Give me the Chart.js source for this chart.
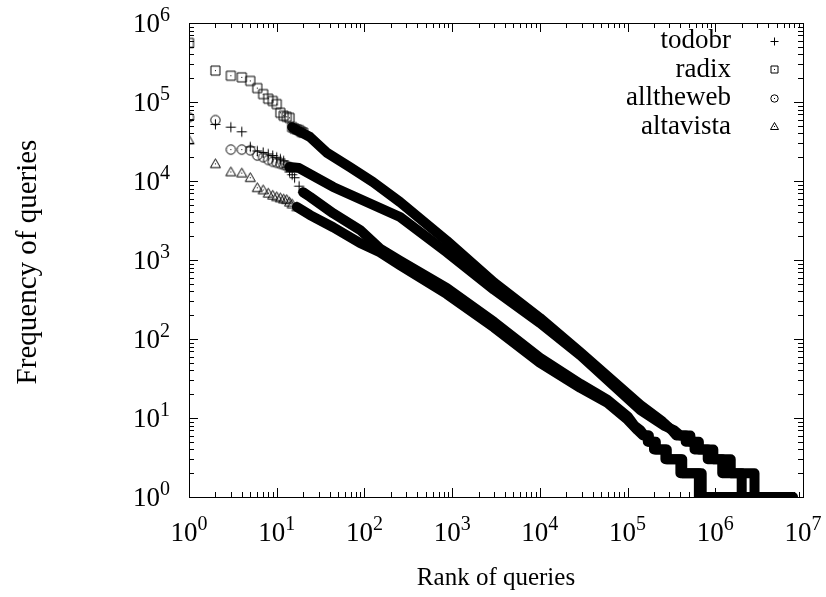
<!DOCTYPE html>
<html>
<head>
<meta charset="utf-8">
<title>Rank vs frequency of queries</title>
<script src="https://cdn.jsdelivr.net/npm/chart.js@4.4.1/dist/chart.umd.min.js"></script>
<style>
  html, body { margin: 0; padding: 0; background: #fff; }
</style>
</head>
<body>
<canvas id="zipf" width="826" height="597"></canvas>
<script>
// axis decades
const xExponents = [0, 1, 2, 3, 4, 5, 6, 7];
const yExponents = [0, 1, 2, 3, 4, 5, 6];

const seriesNames = ["todobr", "radix", "alltheweb", "altavista"];

// top ranked queries, one symbol each: [rank, frequency]
const todobrHead = [[1, 6.0e4], [2, 5.2e4], [3, 4.8e4], [4, 4.2e4], [5, 2.7e4], [6, 2.4e4],
  [7, 2.3e4], [8, 2.2e4], [9, 2.1e4], [10, 2.0e4], [11, 1.9e4], [12, 1.8e4], [13, 1.5e4],
  [14, 1.3e4], [15, 1.2e4], [16, 1.1e4], [18, 8.6e3], [20, 7.2e3]];
const radixHead = [[1, 5.6e5], [2, 2.5e5], [3, 2.15e5], [4, 2.05e5], [5, 1.85e5], [6, 1.5e5],
  [7, 1.26e5], [8, 1.1e5], [9, 1.03e5], [10, 9.4e4], [11, 7.3e4], [12, 6.7e4], [13, 6.5e4],
  [14, 6.3e4], [15, 4.8e4], [16, 4.6e4], [17, 4.5e4], [18, 4.4e4], [19, 4.2e4], [20, 4.1e4]];
const allthewebHead = [[1, 6.4e4], [2, 5.9e4], [3, 2.5e4], [4, 2.5e4], [5, 2.45e4], [6, 2.1e4],
  [7, 2.0e4], [8, 1.85e4], [9, 1.75e4], [10, 1.7e4], [11, 1.65e4], [12, 1.6e4], [13, 1.55e4],
  [14, 1.5e4]];
const altavistaHead = [[1, 3.3e4], [2, 1.65e4], [3, 1.3e4], [4, 1.26e4], [5, 1.1e4], [6, 8.2e3],
  [7, 7.7e3], [8, 7.0e3], [9, 6.6e3], [10, 6.3e3], [11, 6.1e3], [12, 5.9e3], [13, 5.8e3],
  [14, 5.4e3], [15, 5.1e3], [17, 4.7e3]];

// the long tail, where the symbols pile up into a solid band
const todobrTail = [[20, 7.2e3], [24, 6.3e3], [44, 3.9e3], [89, 2.4e3], [150, 1.4e3],
  [255, 980], [870, 440], [3000, 165], [1e4, 58], [2.9e4, 27], [5.9e4, 17], [1e5, 10.5],
  [1.2e5, 8], [1.4e5, 7], [1.55e5, 6], [1.75e5, 6], [1.75e5, 5], [2.1e5, 5], [2.1e5, 4],
  [2.8e5, 4], [2.8e5, 3], [4.2e5, 3], [4.2e5, 2], [7.0e5, 2], [7.0e5, 1], [2.2e6, 1]];
const radixTail = [[15, 4.8e4], [17, 4.4e4], [24, 3.6e4], [37, 2.3e4], [68, 1.5e4],
  [125, 9.7e3], [255, 5.4e3], [870, 1.75e3], [3000, 520], [1e4, 185], [2.9e4, 68],
  [1.4e5, 14.6], [2.5e5, 9], [3.2e5, 7], [3.6e5, 6], [4.6e5, 6], [4.6e5, 5], [5.8e5, 5],
  [5.8e5, 4], [8.2e5, 4], [8.2e5, 3], [1.2e6, 3], [1.2e6, 2], [2.0e6, 2], [2.0e6, 1],
  [5.0e6, 1]];
const allthewebTail = [[14, 1.5e4], [18, 1.46e4], [44, 8.4e3], [255, 3.5e3], [870, 1.25e3],
  [3000, 420], [1e4, 160], [2.9e4, 62], [1.4e5, 12.6], [2.6e5, 8], [3.4e5, 7], [4.0e5, 6],
  [5.2e5, 6], [5.2e5, 5], [6.5e5, 5], [6.5e5, 4], [9.5e5, 4], [9.5e5, 3], [1.5e6, 3],
  [1.5e6, 2], [2.8e6, 2], [2.8e6, 1], [7.7e6, 1]];
const altavistaTail = [[17, 4.7e3], [24, 3.7e3], [44, 2.6e3], [89, 1.64e3], [150, 1.25e3],
  [255, 860], [870, 370], [3000, 140], [1e4, 50], [2.9e4, 24], [5.9e4, 15.5], [1e5, 9.5],
  [1.3e5, 7], [1.5e5, 6], [1.7e5, 6], [1.7e5, 5], [2.0e5, 5], [2.0e5, 4], [2.7e5, 4],
  [2.7e5, 3], [4.0e5, 3], [4.0e5, 2], [6.5e5, 2], [6.5e5, 1], [1.8e6, 1]];

const heads = [todobrHead, radixHead, allthewebHead, altavistaHead];
const tails = [todobrTail, radixTail, allthewebTail, altavistaTail];

const FONT = "'Liberation Serif', 'Times New Roman', serif";
const BASE = "27px " + FONT;
const SUP = "20px " + FONT;

// gnuplot style symbols: plus, box, circle, triangle (the last three with a centre dot)
function makeSymbol(kind, r) {
  const n = 2 * r + 3;
  const m = n / 2;
  const c = document.createElement("canvas");
  c.width = n;
  c.height = n;
  const g = c.getContext("2d");
  g.strokeStyle = "#000";
  g.fillStyle = "#000";
  g.lineWidth = 1;
  g.beginPath();
  if (kind === "plus") {
    g.moveTo(m - r, m); g.lineTo(m + r, m);
    g.moveTo(m, m - r); g.lineTo(m, m + r);
  } else if (kind === "box") {
    g.rect(m - r + 0.5, m - r + 0.5, 2 * r - 1, 2 * r - 1);
  } else if (kind === "circle") {
    g.arc(m, m, r - 0.3, 0, Math.PI * 2);
  } else {
    g.moveTo(m, m - r); g.lineTo(m + r, m + r * 0.75); g.lineTo(m - r, m + r * 0.75); g.closePath();
  }
  g.stroke();
  if (kind !== "plus") g.fillRect(Math.floor(m), Math.floor(m), 1, 1);
  return c;
}

const kinds = ["plus", "box", "circle", "triangle"];
const symbols = kinds.map((k) => makeSymbol(k, 5));
const keySymbols = kinds.map((k) => makeSymbol(k, 4));

const toXY = (pairs) => pairs.map(([r, f]) => ({ x: r, y: f }));

const datasets = [];
// dense parts first so the single symbols sit on top
tails.forEach((t, i) => {
  datasets.push({
    label: seriesNames[i] + " tail",
    data: toXY(t),
    showLine: true,
    borderColor: "#000",
    borderWidth: 10,
    borderCapStyle: "round",
    borderJoinStyle: "round",
    tension: 0,
    pointRadius: 0,
    fill: false,
  });
});
heads.forEach((h, i) => {
  datasets.push({
    label: seriesNames[i],
    data: toXY(h),
    showLine: false,
    pointStyle: symbols[i],
    pointRadius: 5,
  });
});

function drawPower(ctx, exp, x, baseline, align) {
  ctx.font = BASE;
  const wb = ctx.measureText("10").width;
  ctx.font = SUP;
  const ws = ctx.measureText(String(exp)).width;
  const left = align === "right" ? x - wb - ws : x - (wb + ws) / 2;
  ctx.textAlign = "left";
  ctx.textBaseline = "alphabetic";
  ctx.font = BASE;
  ctx.fillText("10", left, baseline);
  ctx.font = SUP;
  ctx.fillText(String(exp), left + wb, baseline - 11);
}

// border, inward ticks on all four sides, labels and key
const framePlugin = {
  id: "frame",
  afterDatasetsDraw(chart) {
    const { ctx, chartArea: a, scales } = chart;
    const xs = scales.x;
    const ys = scales.y;
    ctx.save();
    ctx.strokeStyle = "#000";
    ctx.lineWidth = 1;
    ctx.beginPath();
    xExponents.forEach((e, i) => {
      for (let m = 1; m < 10; m++) {
        if (i === xExponents.length - 1 && m > 1) break;
        const px = Math.round(xs.getPixelForValue(m * Math.pow(10, e))) + 0.5;
        const len = m === 1 ? 9 : 5;
        ctx.moveTo(px, a.bottom); ctx.lineTo(px, a.bottom - len);
        ctx.moveTo(px, a.top); ctx.lineTo(px, a.top + len);
      }
    });
    yExponents.forEach((e, i) => {
      for (let m = 1; m < 10; m++) {
        if (i === yExponents.length - 1 && m > 1) break;
        const py = Math.round(ys.getPixelForValue(m * Math.pow(10, e))) + 0.5;
        const len = m === 1 ? 9 : 5;
        ctx.moveTo(a.left, py); ctx.lineTo(a.left + len, py);
        ctx.moveTo(a.right, py); ctx.lineTo(a.right - len, py);
      }
    });
    ctx.stroke();
    ctx.strokeRect(Math.round(a.left) + 0.5, Math.round(a.top) + 0.5,
      Math.round(a.right - a.left), Math.round(a.bottom - a.top));

    ctx.fillStyle = "#000";
    yExponents.forEach((e) => {
      drawPower(ctx, e, a.left - 19, ys.getPixelForValue(Math.pow(10, e)) + 9, "right");
    });
    xExponents.forEach((e) => {
      drawPower(ctx, e, xs.getPixelForValue(Math.pow(10, e)), a.bottom + 44, "center");
    });

    // axis titles
    ctx.textAlign = "center";
    ctx.textBaseline = "alphabetic";
    ctx.font = "25px " + FONT;
    ctx.fillText("Rank of queries", (a.left + a.right) / 2, a.bottom + 88);
    ctx.save();
    ctx.font = "29px " + FONT;
    ctx.translate(36, (a.top + a.bottom) / 2 + 2);
    ctx.rotate(-Math.PI / 2);
    ctx.fillText("Frequency of queries", 0, 0);
    ctx.restore();

    // key, text right aligned with the symbol after it
    ctx.font = BASE;
    ctx.textAlign = "right";
    ctx.textBaseline = "middle";
    seriesNames.forEach((name, i) => {
      const y = a.top + 18 + i * 28.5;
      ctx.fillText(name, a.right - 72, y);
      const s = keySymbols[i];
      ctx.drawImage(s, Math.round(a.right - 29 - s.width / 2), Math.round(y - s.height / 2));
    });
    ctx.restore();
  },
};

new Chart(document.getElementById("zipf"), {
  type: "scatter",
  data: { datasets },
  options: {
    responsive: false,
    animation: false,
    layout: { padding: { left: 189, right: 23, top: 23, bottom: 100 } },
    scales: {
      x: { type: "logarithmic", min: 1, max: 1e7, display: false },
      y: { type: "logarithmic", min: 1, max: 1e6, display: false },
    },
    plugins: {
      legend: { display: false },
      tooltip: { enabled: false },
    },
  },
  plugins: [framePlugin],
});
</script>
</body>
</html>
